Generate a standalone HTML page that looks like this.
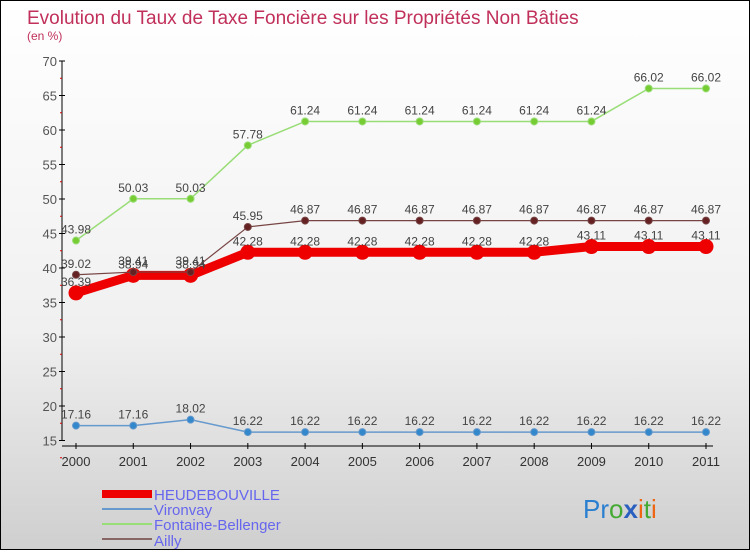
<!DOCTYPE html>
<html><head><meta charset="utf-8"><style>
body{margin:0;width:750px;height:550px;overflow:hidden;font-family:"Liberation Sans",sans-serif}
#c{position:absolute;left:0;top:0;width:748px;height:548px;border:1px solid #000;background:linear-gradient(#ffffff,#f0f0f0 60%,#cfcfcf)}
</style></head><body>
<div id="c">
<svg width="748" height="548" id="s" font-family="Liberation Sans, sans-serif">
<text x="26" y="23" font-size="19" fill="#c0305a">Evolution du Taux de Taxe Foncière sur les Propriétés Non Bâties</text>
<text x="26" y="39" font-size="12" fill="#c0305a">(en %)</text>
<g id="axes"></g><g id="series"></g>
<g>
<rect x="101" y="489" width="50" height="8" fill="#e00"/>
<text x="153" y="499" font-size="15" fill="#6666ee">HEUDEBOUVILLE</text>
<line x1="101" y1="508" x2="151" y2="508" stroke="#6699cc" stroke-width="2"/>
<text x="153" y="514" font-size="15" fill="#6666ee">Vironvay</text>
<line x1="101" y1="523" x2="151" y2="523" stroke="#99dd77" stroke-width="2"/>
<text x="153" y="529" font-size="15" fill="#6666ee">Fontaine-Bellenger</text>
<line x1="101" y1="538" x2="151" y2="538" stroke="#886666" stroke-width="2"/>
<text x="153" y="545" font-size="15" fill="#6666ee">Ailly</text>
</g>
<text x="582" y="517" font-size="26"><tspan fill="#2a7fd0">Pr</tspan><tspan fill="#44aa33">o</tspan><tspan fill="#2a5fc0" font-weight="bold">x</tspan><tspan fill="#ee6611">i</tspan><tspan fill="#44aa33">t</tspan><tspan fill="#ee6611">i</tspan></text>
</svg></div>
<script>
const years=[2000,2001,2002,2003,2004,2005,2006,2007,2008,2009,2010,2011];
const yTicks=[15,20,25,30,35,40,45,50,55,60,65,70];
const heude=[36.39,38.94,38.94,42.28,42.28,42.28,42.28,42.28,42.28,43.11,43.11,43.11];
const vironvay=[17.16,17.16,18.02,16.22,16.22,16.22,16.22,16.22,16.22,16.22,16.22,16.22];
const fontaine=[43.98,50.03,50.03,57.78,61.24,61.24,61.24,61.24,61.24,61.24,66.02,66.02];
const ailly=[39.02,39.41,39.41,45.95,46.87,46.87,46.87,46.87,46.87,46.87,46.87,46.87];
const NS="http://www.w3.org/2000/svg";
const X=i=>75+i*(630/(years.length-1));
const Y=v=>60+(70-v)*6.9;
function mk(t,a,p){const e=document.createElementNS(NS,t);for(const k in a)e.setAttribute(k,a[k]);p.appendChild(e);return e;}
const ax=document.getElementById('axes');
const ya=mk('line',{x1:61,y1:Y(70),x2:61,y2:Y(15),stroke:'#000'},ax);


yTicks.forEach(v=>{
 mk('line',{x1:58,y1:Y(v),x2:64,y2:Y(v),stroke:'#000'},ax);
 mk('line',{x1:59,y1:Y(v-2.5),x2:61,y2:Y(v-2.5),stroke:'#d00'},ax);
 const t=mk('text',{x:56,y:Y(v)+5,'font-size':13,fill:'#555','text-anchor':'end'},ax);t.textContent=v;
 
 
});
const xa=mk('line',{x1:61,y1:445,x2:712,y2:445,stroke:'#000'},ax);


years.forEach((y,i)=>{
 mk('line',{x1:X(i),y1:442,x2:X(i),y2:448,stroke:'#000'},ax);
 const t=mk('text',{x:X(i),y:465,'font-size':13,fill:'#333','text-anchor':'middle'},ax);t.textContent=y;
 
 
});
const sg=document.getElementById('series');
function draw(vals,name,col,w,r,dot,lab){
 const g=mk('g',{},sg);
 
 
 mk('polyline',{points:vals.map((v,i)=>X(i)+','+Y(v)).join(' '),fill:'none',stroke:col,'stroke-width':w},g);
 vals.forEach((v,i)=>{
  const c=mk('circle',{cx:X(i),cy:Y(v),r:r,fill:dot,stroke:col,'stroke-width':1},g);
  
  
  const t=mk('text',{x:X(i),y:Y(v)-7,'font-size':12,fill:'#444','text-anchor':'middle'},g);t.textContent=v.toFixed(2);
  
  
 });
}
draw(vironvay,'vironvay','#6699cc',1.5,3.5,'#3388cc');
draw(fontaine,'fontaine-bellenger','#99dd77',1.5,3.5,'#77cc33');
draw(heude,'heudebouville','#ee0000',9,7,'#ee0000');
draw(ailly,'ailly','#774444',1.2,3.5,'#662222');
</script>
</body></html>
